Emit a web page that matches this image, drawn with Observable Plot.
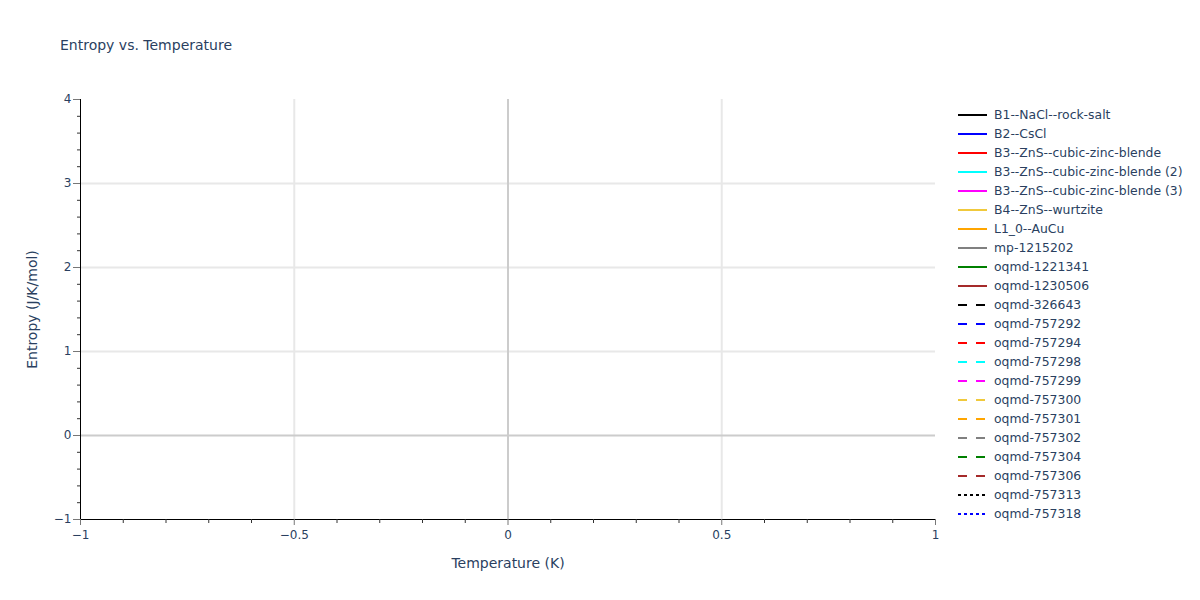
<!DOCTYPE html>
<html>
<head>
<meta charset="utf-8">
<script src="https://cdn.jsdelivr.net/npm/d3@7"></script>
<script src="https://cdn.jsdelivr.net/npm/@observablehq/plot@0.6"></script>
<style>
  html, body { margin: 0; padding: 0; background: white; }
  #wrap { position: relative; width: 1200px; height: 600px; font-family: "DejaVu Sans", Verdana, sans-serif; color: #2a3f5f; }
  #title { position: absolute; left: 60px; top: 36px; font-size: 14px; line-height: 18px; white-space: nowrap; }
  #legend { position: absolute; left: 958px; top: 105px; font-size: 12.4px; }
  .item { height: 19px; display: flex; align-items: center; white-space: nowrap; }
  .item svg { margin-right: 6px; }
</style>
</head>
<body>
<div id="wrap">
  <div id="chart"></div>
  <div id="title"></div>
  <div id="legend"></div>
</div>
<script>
// ---- data ----
const titleText = "Entropy vs. Temperature";
const xLabel = "Temperature (K)";
const yLabel = "Entropy (J/K/mol)";
const xDomain = [-1, 1];
const yDomain = [-1, 4];
const xTicks = [-1, -0.5, 0, 0.5, 1];
const yTicks = [-1, 0, 1, 2, 3, 4];
const xMinorTicks = [-0.9, -0.8, -0.7, -0.6, -0.4, -0.3, -0.2, -0.1, 0.1, 0.2, 0.3, 0.4, 0.6, 0.7, 0.8, 0.9];
const yMinorTicks = [-0.8, -0.6, -0.4, -0.2, 0.2, 0.4, 0.6, 0.8, 1.2, 1.4, 1.6, 1.8, 2.2, 2.4, 2.6, 2.8, 3.2, 3.4, 3.6, 3.8];
const seriesNames = [
  "B1--NaCl--rock-salt", "B2--CsCl", "B3--ZnS--cubic-zinc-blende",
  "B3--ZnS--cubic-zinc-blende (2)", "B3--ZnS--cubic-zinc-blende (3)",
  "B4--ZnS--wurtzite", "L1_0--AuCu", "mp-1215202", "oqmd-1221341",
  "oqmd-1230506", "oqmd-326643", "oqmd-757292", "oqmd-757294",
  "oqmd-757298", "oqmd-757299", "oqmd-757300", "oqmd-757301",
  "oqmd-757302", "oqmd-757304", "oqmd-757306", "oqmd-757313", "oqmd-757318"
];
// every series is empty in the reference (no points drawn)
const seriesTemperature = seriesNames.map(() => []);
const seriesEntropy = seriesNames.map(() => []);

// ---- styles ----
const palette = ["black", "blue", "red", "cyan", "magenta", "#f0c93c", "orange", "gray", "green", "brown"];
const seriesColor = (i) => palette[i % palette.length];
const seriesDash = (i) => (i < 10 ? null : i < 20 ? "9,9" : "3,3");

const fmt = (d) => (d === 0 ? "0" : d3.format("")(d));

const rows = seriesNames.flatMap((name, i) =>
  seriesTemperature[i].map((t, j) => ({ series: name, t, s: seriesEntropy[i][j] }))
);

const seriesMarks = seriesNames.map((name, i) =>
  Plot.line(rows.filter((r) => r.series === name), {
    x: "t", y: "s", stroke: seriesColor(i), strokeWidth: 2, strokeDasharray: seriesDash(i)
  })
);

const chart = Plot.plot({
  width: 1200,
  height: 600,
  marginLeft: 80,
  marginRight: 265,
  marginTop: 99,
  marginBottom: 81,
  style: { fontFamily: '"DejaVu Sans", Verdana, sans-serif', fontSize: "12px", color: "#2a3f5f", background: "white" },
  x: { domain: xDomain },
  y: { domain: yDomain },
  marks: [
    Plot.gridX(xTicks.filter((d) => d !== 0 && d !== xDomain[0] && d !== xDomain[1]), { stroke: "#e8e8e8", strokeOpacity: 1, strokeWidth: 2 }),
    Plot.gridY(yTicks.filter((d) => d !== 0 && d !== yDomain[0] && d !== yDomain[1]), { stroke: "#e8e8e8", strokeOpacity: 1, strokeWidth: 2 }),
    Plot.ruleX([0], { stroke: "#cccccc", strokeWidth: 2 }),
    Plot.ruleY([0], { stroke: "#cccccc", strokeWidth: 2 }),
    ...seriesMarks,
    Plot.ruleX([xDomain[0]], { stroke: "black", strokeWidth: 1 }),
    Plot.ruleY([yDomain[0]], { stroke: "black", strokeWidth: 1 }),
    Plot.axisX(xMinorTicks, { tickSize: 4, tickFormat: () => "", label: null, stroke: "#333" }),
    Plot.axisY(yMinorTicks, { tickSize: 3, tickFormat: () => "", label: null, stroke: "#333" }),
    Plot.axisX(xTicks, {
      tickSize: 6, tickPadding: 5, tickFormat: fmt, stroke: "#777", fill: "#2a3f5f",
      label: xLabel, labelAnchor: "center", labelArrow: "none", labelOffset: 48, fontSize: 12
    }),
    Plot.axisY(yTicks, {
      tickSize: 7, tickPadding: 2, tickFormat: fmt, stroke: "#777", fill: "#2a3f5f",
      label: yLabel, labelAnchor: "center", labelArrow: "none", labelOffset: 53, fontSize: 12
    })
  ]
});
document.getElementById("chart").appendChild(chart);

// axis titles are larger in the reference
chart.querySelectorAll("[aria-label='x-axis label'] text, [aria-label='y-axis label'] text").forEach((t) => {
  t.style.fontSize = "14px";
});

document.getElementById("title").textContent = titleText;

// ---- legend ----
const legend = document.getElementById("legend");
seriesNames.forEach((name, i) => {
  const item = document.createElement("div");
  item.className = "item";
  const dash = seriesDash(i);
  item.innerHTML =
    `<svg width="30" height="4"><line x1="0" y1="2" x2="29" y2="2" stroke="${seriesColor(i)}" stroke-width="2"${dash ? ` stroke-dasharray="${dash}"` : ""}/></svg><span></span>`;
  item.querySelector("span").textContent = name;
  legend.appendChild(item);
});
</script>
</body>
</html>
